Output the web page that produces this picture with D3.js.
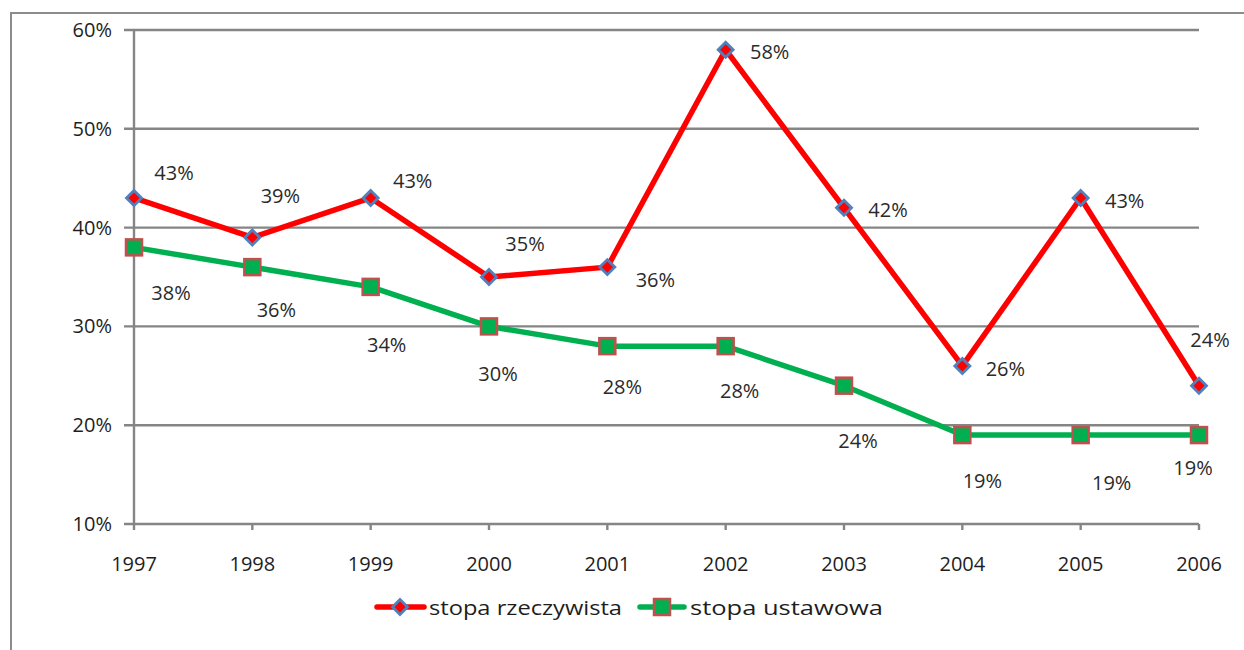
<!DOCTYPE html>
<html><head><meta charset="utf-8">
<script src="https://cdn.jsdelivr.net/npm/d3@7"></script>
<style>body{margin:0;background:#fff}svg{display:block}</style>
</head><body>
<svg id="c" width="1244" height="650"></svg>
<script>
const years = ["1997","1998","1999","2000","2001","2002","2003","2004","2005","2006"];
const stopaRzeczywista = [43,39,43,35,36,58,42,26,43,24];
const stopaUstawowa = [38,36,34,30,28,28,24,19,19,19];
const yTicks = [10,20,30,40,50,60];
const seriesNames = ["stopa rzeczywista","stopa ustawowa"];
// label nudges (dx, dy) relative to each point
const redLabelOffsets = [[40,-25],[28,-41],[42,-17],[36,-33],[48,13],[44,2],[44,2],[43,3],[44,3],[11,-46]];
const greenLabelOffsets = [[37,46],[24,43],[16,58],[9,48],[15,41],[14,45],[14,55],[20,46],[31,48],[-6,33]];

const svg = d3.select("#c");
const font = "'Open Sans', sans-serif";
const grid = "#858585";
const fs = 20;

// outer frame
svg.append("rect").attr("x",11).attr("y",13).attr("width",1300).attr("height",700)
  .attr("fill","none").attr("stroke","#8c8c8c").attr("stroke-width",2);

const x = d3.scalePoint().domain(years).range([134,1199]);
const y = d3.scaleLinear().domain([10,60]).range([524,30]);

// gridlines
svg.append("g").selectAll("line").data(yTicks).join("line")
  .attr("x1",124).attr("x2",1199).attr("y1",d=>y(d)).attr("y2",d=>y(d))
  .attr("stroke",grid).attr("stroke-width",2.4);
// y axis line
svg.append("line").attr("x1",134).attr("x2",134).attr("y1",y(60)).attr("y2",y(10))
  .attr("stroke",grid).attr("stroke-width",2.4);
// x ticks
svg.append("g").selectAll("line").data(years).join("line")
  .attr("x1",d=>x(d)).attr("x2",d=>x(d)).attr("y1",y(10)).attr("y2",y(10)+6)
  .attr("stroke",grid).attr("stroke-width",2.4);
// y labels
svg.append("g").selectAll("text").data(yTicks).join("text")
  .attr("x",112).attr("y",d=>y(d)+7).attr("text-anchor","end")
  .attr("font-family",font).attr("font-size",fs).attr("fill","#1e1e1e")
  .text(d=>d+"%");
// x labels
svg.append("g").selectAll("text").data(years).join("text")
  .attr("x",d=>x(d)).attr("y",571).attr("text-anchor","middle")
  .attr("font-family",font).attr("font-size",fs).attr("fill","#1e1e1e")
  .text(d=>d);

const line = d3.line().x((d,i)=>x(years[i])).y(d=>y(d));
svg.append("path").datum(stopaUstawowa).attr("d",line).attr("fill","none")
  .attr("stroke","#00b050").attr("stroke-width",5.5).attr("stroke-linejoin","round");
svg.append("path").datum(stopaRzeczywista).attr("d",line).attr("fill","none")
  .attr("stroke","#ff0000").attr("stroke-width",5.5).attr("stroke-linejoin","round");

function diamond(g,cx,cy){
  g.append("path").attr("d",`M${cx},${cy-7.5}L${cx+7.5},${cy}L${cx},${cy+7.5}L${cx-7.5},${cy}Z`)
   .attr("fill","#ff0000").attr("stroke","#4f81bd").attr("stroke-width",2.8);
}
function square(g,cx,cy){
  g.append("rect").attr("x",cx-8).attr("y",cy-8).attr("width",16).attr("height",16)
   .attr("fill","#00b050").attr("stroke","#c0504d").attr("stroke-width",2.5);
}
const mg = svg.append("g");
stopaUstawowa.forEach((v,i)=>square(mg,x(years[i]),y(v)));
stopaRzeczywista.forEach((v,i)=>diamond(mg,x(years[i]),y(v)));

// data labels
const lg = svg.append("g").attr("font-family",font).attr("font-size",fs).attr("fill","#2a2a2a").attr("text-anchor","middle");
stopaRzeczywista.forEach((v,i)=>lg.append("text")
  .attr("x",x(years[i])+redLabelOffsets[i][0]).attr("y",y(v)+redLabelOffsets[i][1]+7).text(v+"%"));
stopaUstawowa.forEach((v,i)=>lg.append("text")
  .attr("x",x(years[i])+greenLabelOffsets[i][0]).attr("y",y(v)+greenLabelOffsets[i][1]+7).text(v+"%"));

// legend
const leg = svg.append("g");
leg.append("line").attr("x1",377).attr("x2",424).attr("y1",607).attr("y2",607).attr("stroke","#ff0000").attr("stroke-width",5.5).attr("stroke-linecap","round");
diamond(leg,400,607);
leg.append("text").attr("x",429).attr("y",615).attr("font-family",font).attr("font-size",20).attr("fill","#1e1e1e")
  .attr("textLength",193).attr("lengthAdjust","spacingAndGlyphs").text(seriesNames[0]);
leg.append("line").attr("x1",640).attr("x2",684).attr("y1",607).attr("y2",607).attr("stroke","#00b050").attr("stroke-width",5.5).attr("stroke-linecap","round");
square(leg,662,607);
leg.append("text").attr("x",690).attr("y",615).attr("font-family",font).attr("font-size",20).attr("fill","#1e1e1e")
  .attr("textLength",193).attr("lengthAdjust","spacingAndGlyphs").text(seriesNames[1]);
</script>
</body></html>
